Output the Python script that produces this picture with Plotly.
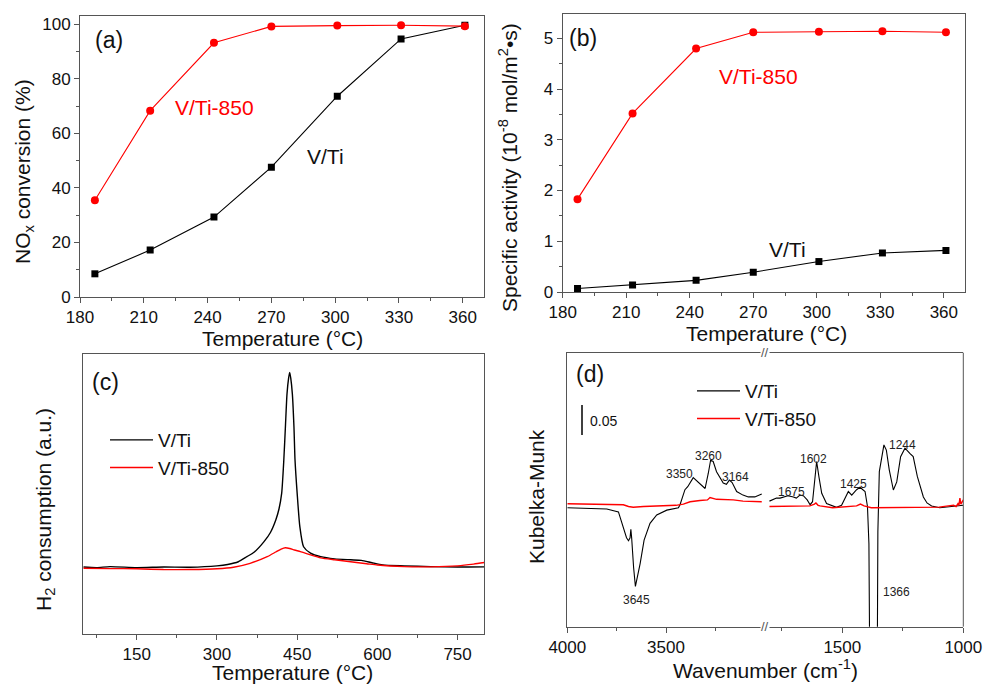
import plotly.graph_objects as go

# ---------------- data ----------------
# (a) / (b) catalytic tests
temp_ab = [187, 213, 243, 270, 301, 331, 361]
nox_vti = [8.5, 17.2, 29.3, 47.6, 73.6, 94.6, 99.6]
nox_vti850 = [35.5, 68.3, 93.2, 99.2, 99.5, 99.6, 99.3]
act_vti = [0.07, 0.14, 0.23, 0.39, 0.60, 0.77, 0.82]
act_vti850 = [1.83, 3.52, 4.80, 5.12, 5.13, 5.14, 5.12]

# (c) H2-TPR
tpr_t_vti = [50, 75, 100, 150, 200, 250, 300, 320, 340, 356, 370, 388, 400, 410, 416, 421,
             425, 428, 431, 434, 436, 438, 441, 444, 446, 450, 455, 462, 475, 494, 520, 550,
             570, 590, 610, 650, 700, 750, 800]
tpr_vti = [0.003, 0.0, 0.005, 0.0, 0.003, 0.002, 0.009, 0.016, 0.03, 0.056, 0.08, 0.133, 0.18,
           0.244, 0.30, 0.38, 0.55, 0.72, 0.89, 0.97, 1.0, 0.97, 0.89, 0.72, 0.55, 0.38, 0.21,
           0.107, 0.074, 0.056, 0.045, 0.04, 0.037, 0.025, 0.014, 0.009, 0.005, 0.003, 0.004]
tpr_t_850 = [50, 100, 150, 200, 250, 300, 331, 362, 394, 410, 420, 428, 436, 445, 456, 475,
             494, 520, 550, 580, 600, 650, 700, 750, 780, 800]
tpr_850 = [-0.003, -0.005, -0.006, -0.01, -0.01, -0.006, 0.002, 0.022, 0.056, 0.08, 0.095,
           0.102, 0.098, 0.09, 0.082, 0.065, 0.05, 0.04, 0.03, 0.02, 0.013, 0.005, 0.004,
           0.009, 0.018, 0.026]

# (d) DRIFT spectra, high-wavenumber segment
wn_hi = [4000, 3900, 3800, 3741, 3716, 3700, 3690, 3682, 3678, 3674, 3664, 3655, 3645, 3631,
         3611, 3581, 3547, 3496, 3437, 3429, 3404, 3390, 3362, 3345, 3330, 3302, 3286, 3274,
         3261, 3244, 3210, 3194, 3179, 3165, 3142, 3110, 3083, 3050, 3015]
km_vti_hi = [0.0, -0.001, -0.002, -0.007, -0.032, -0.05, -0.055, -0.05, -0.036, -0.05, -0.1,
             -0.131, -0.115, -0.093, -0.054, -0.026, -0.012, -0.004, 0.0, 0.005, 0.03, 0.035,
             0.05, 0.045, 0.04, 0.032, 0.057, 0.079, 0.077, 0.06, 0.041, 0.039, 0.046, 0.042,
             0.027, 0.021, 0.018, 0.018, 0.023]
wn_hi_850 = [4000, 3800, 3716, 3690, 3666, 3614, 3547, 3450, 3412, 3378, 3328, 3290, 3277,
             3244, 3159, 3110, 3015]
km_850_hi = [0.0065, 0.006, 0.005, 0.002, 0.0007, 0.002, 0.003, 0.004, 0.006, 0.01, 0.012,
             0.013, 0.017, 0.014, 0.013, 0.011, 0.01]

# (d) low-wavenumber segment
wn_lo = [1801, 1772, 1757, 1725, 1702, 1690, 1675, 1661, 1645, 1633, 1623, 1613, 1606, 1596,
         1585, 1565, 1524, 1503, 1475, 1461, 1441, 1427, 1406, 1396, 1390, 1386, 1376, 1362,
         1356, 1353, 1347, 1328, 1318, 1306, 1289, 1275, 1259, 1241, 1220, 1207, 1190, 1165,
         1150, 1131, 1097, 1028, 1000]
km_vti_lo = [0.011, 0.016, 0.016, 0.02, 0.018, 0.016, 0.021, 0.02, 0.013, 0.005, 0.01, 0.052,
             0.077, 0.05, 0.024, 0.007, 0.0006, 0.004, 0.027, 0.021, 0.03, 0.034, 0.027, 0.002,
             -0.06, -0.3, -0.6, -0.6, -0.3, -0.04, 0.06, 0.1045, 0.096, 0.063, 0.0295, 0.043,
             0.085, 0.099, 0.09, 0.085, 0.052, 0.018, 0.008, 0.003, 0.0, 0.002, 0.004]
wn_lo_850 = [1801, 1700, 1634, 1615, 1609, 1600, 1592, 1540, 1480, 1441, 1425, 1410, 1380,
             1300, 1200, 1100, 1062, 1040, 1030, 1022, 1018, 1014, 1010, 1005, 1000]
km_850_lo = [0.002, 0.002, 0.003, 0.006, 0.008, 0.004, 0.003, 0.0, 0.002, 0.003, 0.006, 0.003,
             0.0, 0.0, 0.0005, 0.001, 0.003, 0.004, 0.002, 0.007, 0.004, 0.016, 0.006, 0.01,
             0.013]

# peak labels of (d)
peak_labels_hi = ["3645", "3350", "3260", "3164"]
peak_labels_lo = ["1675", "1602", "1425", "1244", "1366"]

# ---------------- figure ----------------
W, H = 983, 684
def fx(p):
    return p / W
def fy(p):
    return 1 - p / H

RED = "#FF0000"
BLK = "#000000"
AX = "#555555"
FONT = "Arial, Liberation Sans, sans-serif"

fig = go.Figure()

# (a)
fig.add_trace(go.Scatter(x=temp_ab, y=nox_vti, mode="lines+markers", xaxis="x", yaxis="y",
                         line=dict(color=BLK, width=1.1),
                         marker=dict(symbol="square", size=7, color=BLK), showlegend=False))
fig.add_trace(go.Scatter(x=temp_ab, y=nox_vti850, mode="lines+markers", xaxis="x", yaxis="y",
                         line=dict(color=RED, width=1.1),
                         marker=dict(symbol="circle", size=8, color=RED), showlegend=False))
# (b)
fig.add_trace(go.Scatter(x=temp_ab, y=act_vti, mode="lines+markers", xaxis="x2", yaxis="y2",
                         line=dict(color=BLK, width=1.1),
                         marker=dict(symbol="square", size=7, color=BLK), showlegend=False))
fig.add_trace(go.Scatter(x=temp_ab, y=act_vti850, mode="lines+markers", xaxis="x2", yaxis="y2",
                         line=dict(color=RED, width=1.1),
                         marker=dict(symbol="circle", size=8, color=RED), showlegend=False))
# (c)
fig.add_trace(go.Scatter(x=tpr_t_vti, y=tpr_vti, mode="lines", xaxis="x3", yaxis="y3",
                         line=dict(color=BLK, width=1.4, shape="spline", smoothing=0.6),
                         name="V/Ti", legend="legend"))
fig.add_trace(go.Scatter(x=tpr_t_850, y=tpr_850, mode="lines", xaxis="x3", yaxis="y3",
                         line=dict(color=RED, width=1.4, shape="spline", smoothing=0.6),
                         name="V/Ti-850", legend="legend"))
# (d)
fig.add_trace(go.Scatter(x=wn_hi, y=km_vti_hi, mode="lines", xaxis="x4", yaxis="y4",
                         line=dict(color=BLK, width=1.1), name="V/Ti", legend="legend2"))
fig.add_trace(go.Scatter(x=wn_hi_850, y=km_850_hi, mode="lines", xaxis="x4", yaxis="y4",
                         line=dict(color=RED, width=1.4), name="V/Ti-850", legend="legend2"))
fig.add_trace(go.Scatter(x=wn_lo, y=km_vti_lo, mode="lines", xaxis="x5", yaxis="y4",
                         line=dict(color=BLK, width=1.1), showlegend=False))
fig.add_trace(go.Scatter(x=wn_lo_850, y=km_850_lo, mode="lines", xaxis="x5", yaxis="y4",
                         line=dict(color=RED, width=1.4), showlegend=False))

common = dict(showline=True, linecolor=AX, linewidth=1, ticks="outside", ticklen=5,
              tickwidth=1, tickcolor=AX, showgrid=False, zeroline=False, automargin=False,
              tickfont=dict(size=17, color="#111", family=FONT))

def minor(**kw):
    d = dict(ticks="outside", ticklen=3, tickwidth=1, tickcolor=AX, showgrid=False)
    d.update(kw)
    return d

layout = dict(
    width=W, height=H, margin=dict(l=0, r=0, t=0, b=0, pad=0, autoexpand=False),
    paper_bgcolor="white", plot_bgcolor="white",
    font=dict(family=FONT, color="#111"),
    xaxis=dict(common, domain=[fx(80), fx(484)], range=[180, 370], tick0=180, dtick=30,
               anchor="y", mirror=True, minor=minor(dtick=15)),
    yaxis=dict(common, domain=[fy(297), fy(15.5)], range=[0, 103.2], tick0=0, dtick=20,
               anchor="x", mirror=True, minor=minor(dtick=10)),
    xaxis2=dict(common, domain=[fx(562.7), fx(965)], range=[180, 370], tick0=180, dtick=30,
                anchor="y2", mirror=True, minor=minor(dtick=15)),
    yaxis2=dict(common, domain=[fy(292), fy(14)], range=[0, 5.48], tick0=0, dtick=1,
                anchor="x2", mirror=True, minor=minor(dtick=0.5)),
    xaxis3=dict(common, domain=[fx(83.3), fx(484.3)], range=[50, 800], tick0=0, dtick=150,
                anchor="y3", mirror=True, minor=minor(dtick=75)),
    yaxis3=dict(common, domain=[fy(634), fy(354)], range=[-0.34, 1.094], anchor="x3",
                mirror=True, ticks="", showticklabels=False),
    xaxis4=dict(common, domain=[fx(567.3), fx(765)], range=[4000, 2998.5],
                tickvals=[4000, 3500], anchor="y4", mirror=True,
                minor=minor(tickvals=[3750, 3250])),
    xaxis5=dict(common, domain=[fx(765), fx(963.3)], range=[1819.4, 1000],
                tickvals=[1500, 1000], anchor="y4", mirror=True,
                minor=minor(tickvals=[1750, 1250])),
    yaxis4=dict(common, domain=[fy(626.7), fy(352.7)], range=[-0.198, 0.258], anchor="x4",
                ticks="", showticklabels=False),
    legend=dict(x=fx(105), y=fy(421), xanchor="left", yanchor="top", itemwidth=43,
                bgcolor="rgba(0,0,0,0)", font=dict(size=19, color="#111", family=FONT),
                tracegroupgap=0),
    legend2=dict(x=fx(692), y=fy(372), xanchor="left", yanchor="top", itemwidth=43,
                 bgcolor="rgba(0,0,0,0)", font=dict(size=19, color="#111", family=FONT),
                 tracegroupgap=0),
)
fig.update_layout(**layout)

ann = []
def txt(text, x, y, size=21, color="#111", angle=0, xref="paper", yref="paper", **kw):
    ann.append(dict(text=text, x=x, y=y, xref=xref, yref=yref, showarrow=False,
                    textangle=angle, font=dict(size=size, color=color, family=FONT),
                    xanchor="center", yanchor="middle", **kw))

# axis titles
txt("Temperature (°C)", fx(282), fy(338))
txt("Temperature (°C)", fx(766), fy(333))
txt("Temperature (°C)", fx(292), fy(672))
txt("Wavenumber (cm<sup>-1</sup>)", fx(765), fy(669))
txt("NO<sub>x</sub> conversion (%)", fx(24), fy(172), angle=-90)
txt("Specific activity (10<sup>-8</sup> mol/m<sup>2</sup>•s)", fx(508), fy(168), angle=-90)
txt("H<sub>2</sub> consumption (a.u.)", fx(45), fy(510), angle=-90)
txt("Kubelka-Munk", fx(536), fy(497), angle=-90)

# panel labels
txt("(a)", fx(109), fy(40), size=23)
txt("(b)", fx(583), fy(38), size=23)
txt("(c)", fx(105), fy(382), size=23)
txt("(d)", fx(590), fy(374), size=23)

# series labels in (a), (b)
txt("V/Ti-850", fx(214), fy(107), color=RED)
txt("V/Ti", fx(325), fy(157))
txt("V/Ti-850", fx(758), fy(76), color=RED)
txt("V/Ti", fx(787), fy(249))

# peak labels in (d)
for lab, x, y in zip(peak_labels_hi, [3648, 3434, 3286, 3147], [-0.153, 0.056, 0.086, 0.051]):
    txt(lab, x, y, size=12, color="#222", xref="x4", yref="y4")
for lab, x, y in zip(peak_labels_lo, [1709, 1617, 1455, 1252, 1275],
                     [0.026, 0.081, 0.04, 0.105, -0.14]):
    txt(lab, x, y, size=12, color="#222", xref="x5", yref="y4")

# scale bar label
txt("0.05", fx(603), fy(421), size=14)

# axis break marks
txt("//", fx(765), fy(352.7), size=13, color=AX, bgcolor="white", borderpad=0)
txt("//", fx(765), fy(626.7), size=13, color=AX, bgcolor="white", borderpad=0)

fig.update_layout(annotations=ann)

# right frame edge of (d)
fig.add_shape(type="line", xref="paper", yref="paper", x0=fx(963.3), x1=fx(963.3),
              y0=fy(626.7), y1=fy(352.7), line=dict(color=AX, width=1))
# 0.05 scale bar (spans 0.05 Kubelka-Munk units)
bar_y0 = (507.7 - 435) / 600
fig.add_shape(type="line", xref="paper", yref="y4", x0=fx(582), x1=fx(582),
              y0=bar_y0, y1=bar_y0 + 0.05, line=dict(color=BLK, width=1.5))

fig.write_html("out.html", config={"displayModeBar": False},
               post_script="document.body.style.margin='0';document.body.style.overflow='hidden';")
